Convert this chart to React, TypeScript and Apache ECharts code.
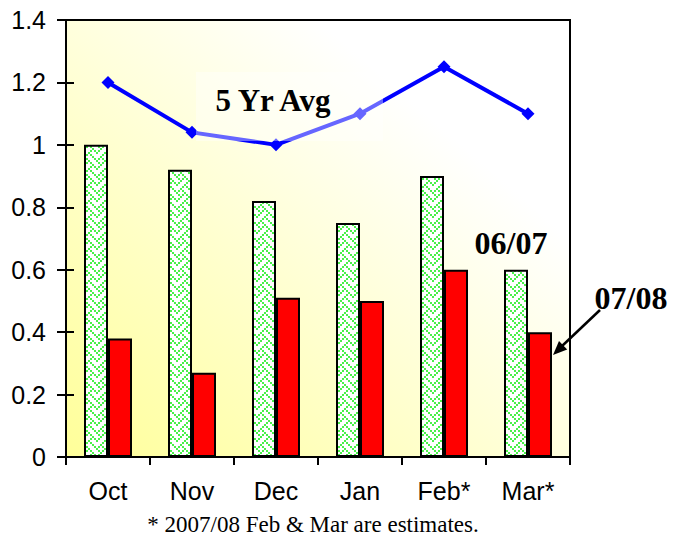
import React, { useEffect, useRef } from "react";
import * as echarts from "echarts";

const categories = ["Oct", "Nov", "Dec", "Jan", "Feb*", "Mar*"];
const season0607 = [1.0, 0.92, 0.82, 0.75, 0.9, 0.6];
const season0708 = [0.38, 0.27, 0.51, 0.5, 0.6, 0.4];
const avg5yr = [1.2, 1.04, 1.0, 1.1, 1.25, 1.1];
const yTicks = { min: 0, max: 1.4, interval: 0.2 };

const weaveRows = [0x88, 0x54, 0x22, 0x45, 0x88, 0x14, 0x22, 0x51];

function makePattern() {
  const s = 2;
  const c = document.createElement("canvas");
  c.width = 8 * s;
  c.height = 8 * s;
  const ctx = c.getContext("2d")!;
  ctx.fillStyle = "#ffffff";
  ctx.fillRect(0, 0, 8 * s, 8 * s);
  ctx.fillStyle = "#4af04a";
  weaveRows.forEach((row, y) => {
    for (let x = 0; x < 8; x++) {
      if (row & (0x80 >> x)) ctx.fillRect(x * s, y * s, s, s);
    }
  });
  return c;
}

export default function App() {
  const ref = useRef<HTMLDivElement>(null);
  useEffect(() => {
    if (!ref.current) return;
    const chart = echarts.init(ref.current, undefined, { renderer: "svg" });
    const pattern = makePattern();
    const sans = "Liberation Sans";
    chart.setOption({
      animation: false,
      backgroundColor: "#ffffff",
      grid: {
        left: 66,
        top: 20,
        right: 111,
        bottom: 81,
        show: true,
        borderColor: "#000",
        borderWidth: 2,
        backgroundColor: new echarts.graphic.LinearGradient(0, 1, 1, 0, [
          { offset: 0, color: "#ffff99" },
          { offset: 0.75, color: "#ffffff" },
          { offset: 1, color: "#ffffff" },
        ]),
      },
      xAxis: {
        type: "category",
        data: categories,
        axisLine: { lineStyle: { color: "#000", width: 2 } },
        axisTick: { show: true, length: 8, lineStyle: { color: "#000", width: 2 } },
        axisLabel: { color: "#000", fontFamily: sans, fontSize: 25, margin: 21 },
        splitLine: { show: false },
      },
      yAxis: [
        {
          type: "value",
          ...yTicks,
          axisLine: { show: true, lineStyle: { color: "#000", width: 2 } },
          axisTick: { show: true, length: 9, lineStyle: { color: "#000", width: 2 } },
          axisLabel: { color: "#000", fontFamily: sans, fontSize: 25, margin: 20 },
          splitLine: { show: false },
        },
        {
          type: "value",
          position: "left",
          ...yTicks,
          axisLine: { show: false },
          axisTick: { show: true, inside: true, length: 8, lineStyle: { color: "#000", width: 2 } },
          axisLabel: { show: false },
          splitLine: { show: false },
        },
      ],
      series: [
        {
          name: "06/07",
          type: "bar",
          data: season0607,
          barWidth: 24,
          barGap: "0%",
          itemStyle: {
            color: { image: pattern, repeat: "repeat" },
            borderColor: "#000",
            borderWidth: 2,
          },
        },
        {
          name: "07/08",
          type: "bar",
          data: season0708,
          barWidth: 24,
          barGap: "0%",
          itemStyle: { color: "#ff0000", borderColor: "#000", borderWidth: 2 },
        },
        {
          name: "5 Yr Avg",
          type: "line",
          data: avg5yr,
          symbol: "diamond",
          symbolSize: 13,
          z: 5,
          lineStyle: { color: "#0000ff", width: 4 },
          itemStyle: { color: "#0000ff" },
        },
      ],
      graphic: [
        {
          type: "rect",
          z: 20,
          shape: { x: 196, y: 72, width: 187, height: 69 },
          style: { fill: "rgba(255,255,255,0.4)" },
          silent: true,
        },
        {
          type: "text",
          z: 30,
          x: 273,
          y: 100,
          style: {
            text: "5 Yr Avg",
            font: "bold 31px 'Liberation Serif'",
            fill: "#000",
            align: "center",
            verticalAlign: "middle",
          },
        },
        {
          type: "text",
          z: 30,
          x: 511,
          y: 243,
          style: {
            text: "06/07",
            font: "bold 32px 'Liberation Serif'",
            fill: "#000",
            align: "center",
            verticalAlign: "middle",
          },
        },
        {
          type: "text",
          z: 30,
          x: 631,
          y: 298,
          style: {
            text: "07/08",
            font: "bold 32px 'Liberation Serif'",
            fill: "#000",
            align: "center",
            verticalAlign: "middle",
          },
        },
        {
          type: "line",
          z: 30,
          shape: { x1: 600, y1: 310, x2: 561, y2: 347 },
          style: { stroke: "#000", lineWidth: 2.5 },
        },
        {
          type: "polygon",
          z: 30,
          shape: { points: [[553, 355], [567.2, 349.6], [559.0, 341.0]] },
          style: { fill: "#000" },
        },
        {
          type: "text",
          z: 30,
          x: 313,
          y: 524,
          style: {
            text: "* 2007/08 Feb & Mar are estimates.",
            font: "23px 'Liberation Serif'",
            fill: "#000",
            align: "center",
            verticalAlign: "middle",
          },
        },
      ],
    });
    return () => chart.dispose();
  }, []);
  return (
    <div
      ref={ref}
      style={{ position: "fixed", left: 0, top: 0, width: 681, height: 538 }}
    />
  );
}
